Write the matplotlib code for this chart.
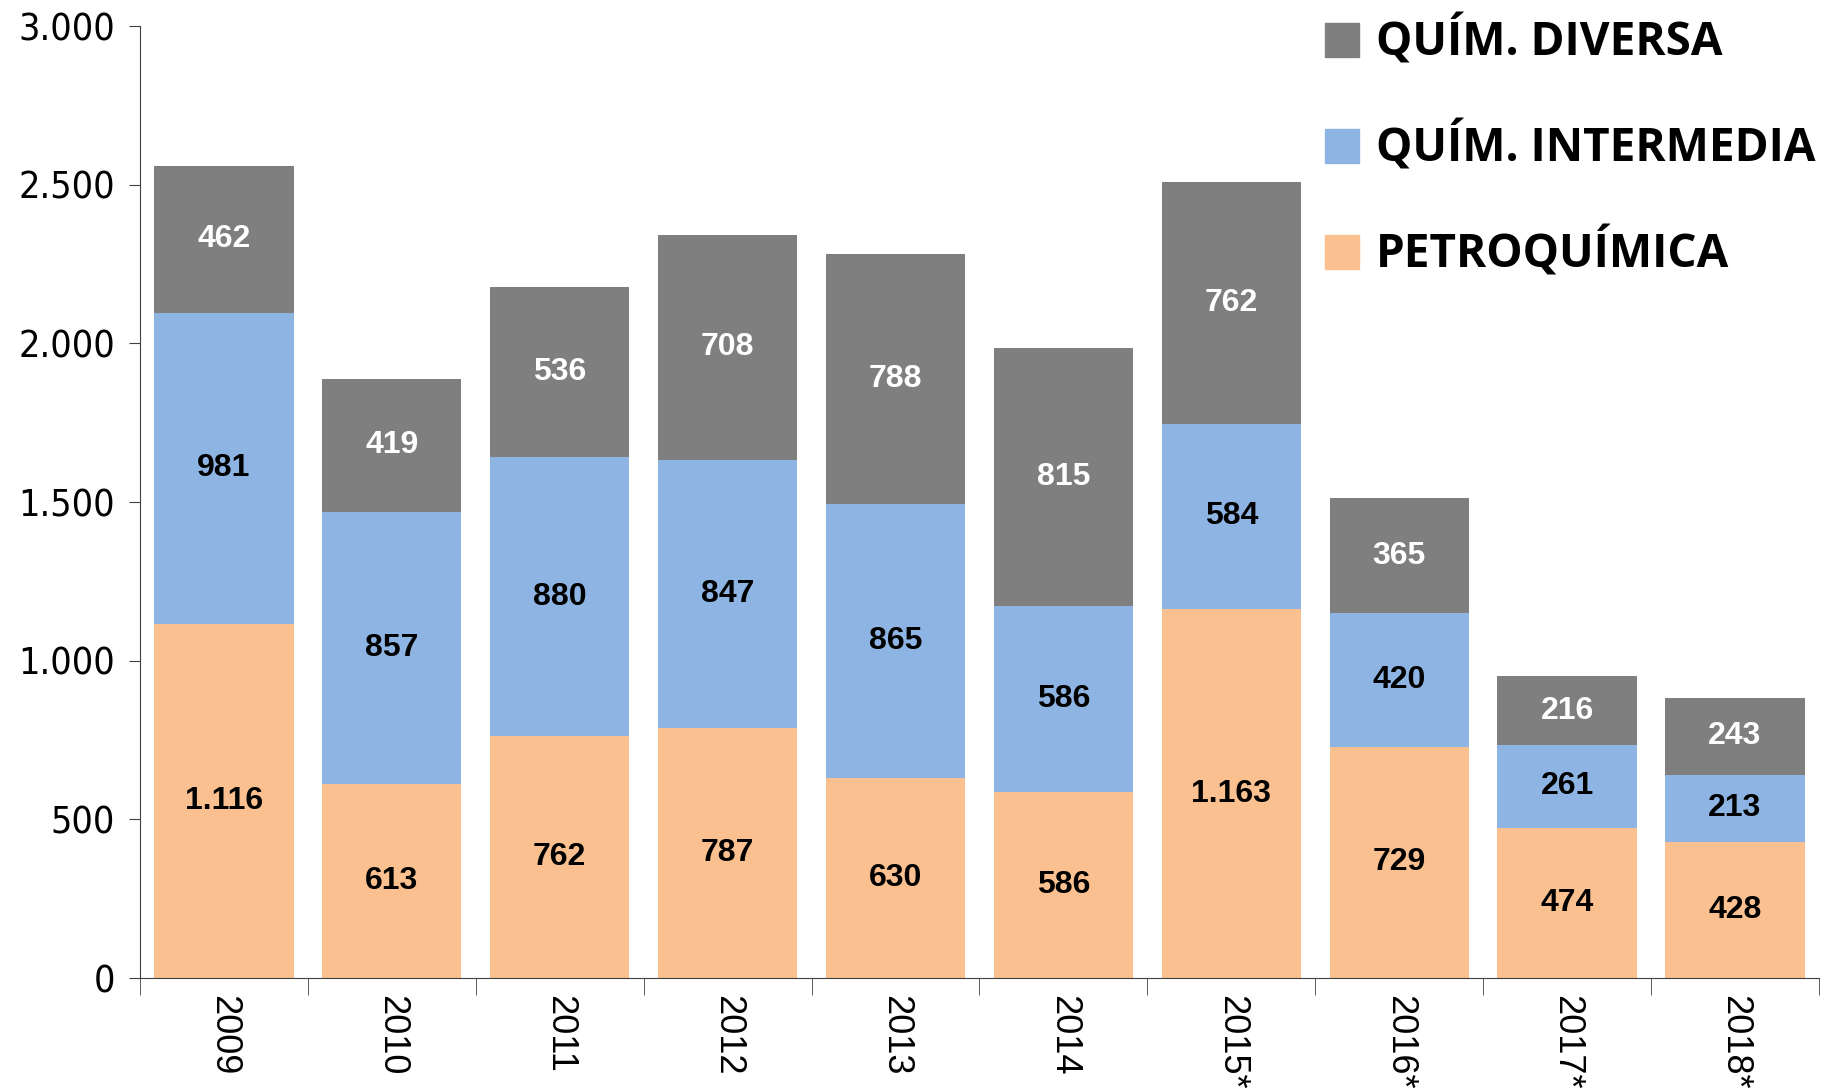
import numpy as np
import matplotlib
matplotlib.use("Agg")
import matplotlib.pyplot as plt
from matplotlib.patches import Patch

# datos
years = ['2009', '2010', '2011', '2012', '2013', '2014', '2015*', '2016*', '2017*', '2018*']
petroquimica = [1116, 613, 762, 787, 630, 586, 1163, 729, 474, 428]
intermedia = [981, 857, 880, 847, 865, 586, 584, 420, 261, 213]
diversa = [462, 419, 536, 708, 788, 815, 762, 365, 216, 243]
yticks = [0, 500, 1000, 1500, 2000, 2500, 3000]

c_petro = '#FAC090'
c_inter = '#8EB4E3'
c_div = '#7F7F7F'

def fmt(v):
    return f'{v:,}'.replace(',', '.')

fig = plt.figure(figsize=(18.29, 10.88), dpi=100)
ax = fig.add_axes([0.0765, 0.101, 0.918, 0.875])

x = np.arange(len(years))
w = 0.83
petro = np.array(petroquimica)
inter = np.array(intermedia)
div = np.array(diversa)

ax.bar(x, petro, w, color=c_petro)
ax.bar(x, inter, w, bottom=petro, color=c_inter)
ax.bar(x, div, w, bottom=petro + inter, color=c_div)

lbl = dict(ha='center', va='center', fontsize=23, fontweight='bold',
           family=['Liberation Sans', 'DejaVu Sans'])
for i in range(len(years)):
    ax.text(x[i], petro[i] / 2, fmt(petro[i]), color='black', **lbl)
    ax.text(x[i], petro[i] + inter[i] / 2, fmt(inter[i]), color='black', **lbl)
    ax.text(x[i], petro[i] + inter[i] + div[i] / 2, fmt(div[i]), color='white', **lbl)

ax.set_xlim(-0.5, len(years) - 0.5)
ax.set_ylim(0, 3000)
ax.set_yticks(yticks)
ax.set_yticklabels([fmt(v) for v in yticks], family=['DejaVu Sans'], stretch='condensed',
                   fontsize=27)
ax.set_xticks(x)
ax.set_xticklabels(years, rotation=270, fontsize=26, family=['Liberation Sans', 'DejaVu Sans'])
ax.tick_params(axis='x', length=0, pad=12)
ax.set_xticks(np.arange(-0.5, len(years)), minor=True)
ax.tick_params(axis='x', which='minor', length=12, color='#404040')
ax.tick_params(axis='y', length=8, color='#404040', pad=10)

for s in ['top', 'right']:
    ax.spines[s].set_visible(False)
ax.spines['left'].set_color('#404040')
ax.spines['bottom'].set_color('#404040')

handles = [Patch(color=c_div, label='QUÍM. DIVERSA'),
           Patch(color=c_inter, label='QUÍM. INTERMEDIA'),
           Patch(color=c_petro, label='PETROQUÍMICA')]
leg = ax.legend(handles=handles, loc='upper left', bbox_to_anchor=(0.695, 1.03),
                frameon=False, handlelength=0.74, handleheight=0.74, handletextpad=0.36,
                labelspacing=1.2, borderaxespad=0,
                prop={'family': ['Open Sans', 'DejaVu Sans'], 'weight': 'bold', 'size': 33})

fig.savefig('out.png', dpi=100)
